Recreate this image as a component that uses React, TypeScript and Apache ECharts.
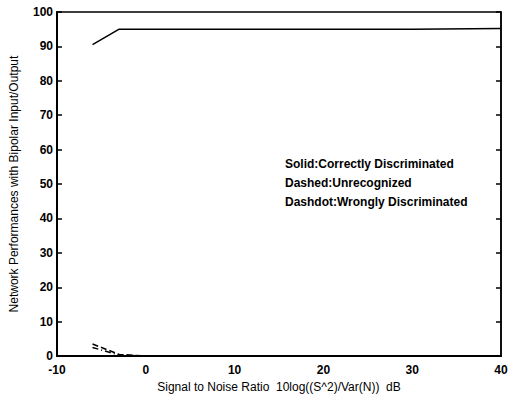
import React, { useEffect, useRef } from "react";
import * as echarts from "echarts";

const snr = [-6, -3, 0, 10, 20, 30, 40];
const correct = [90.5, 95, 95, 95, 95, 95, 95.2];
const unrecognized = [3.5, 0.5, 0, 0, 0, 0, 0];
const wrong = [2.5, 0.3, 0, 0, 0, 0, 0];
const legendLines = [
  "Solid:Correctly Discriminated",
  "Dashed:Unrecognized",
  "Dashdot:Wrongly Discriminated",
];

const FONT = "'Liberation Sans', Arial, Helvetica, sans-serif";

export default function App() {
  const ref = useRef<HTMLDivElement>(null);
  useEffect(() => {
    if (!ref.current) return;
    const chart = echarts.init(ref.current, undefined, { renderer: "svg" });
    const pair = (ys: number[]) => snr.map((x, i) => [x, ys[i]]);
    chart.setOption({
      animation: false,
      backgroundColor: "#ffffff",
      grid: {
        left: 57,
        right: 19,
        top: 12,
        height: 351,
        show: true,
        borderColor: "#000",
        borderWidth: 1.5,
        backgroundColor: "transparent",
      },
      xAxis: {
        type: "value",
        min: -10,
        max: 40,
        interval: 10,
        axisLine: { show: true, onZero: false, lineStyle: { color: "#000", width: 2 } },
        axisTick: { show: false },
        splitLine: { show: false },
        axisLabel: {
          color: "#000",
          fontFamily: FONT,
          fontSize: 12,
          fontWeight: "bold",
          margin: 8,
        },
        name: "Signal to Noise Ratio  10log((S^2)/Var(N))  dB",
        nameLocation: "middle",
        nameGap: 24,
        nameTextStyle: { color: "#000", fontFamily: FONT, fontSize: 12 },
      },
      yAxis: [
        {
          type: "value",
          min: 0,
          max: 100,
          interval: 10,
          axisLine: { show: true, onZero: false, lineStyle: { color: "#000", width: 2 } },
          axisTick: { show: true, inside: true, length: 5, lineStyle: { color: "#000", width: 1.5 } },
          splitLine: { show: false },
          axisLabel: {
            color: "#000",
            fontFamily: FONT,
            fontSize: 12,
            fontWeight: "bold",
            margin: 4,
          },
          name: "Network Performances with Bipolar Input/Output",
          nameLocation: "middle",
          nameGap: 37,
          nameTextStyle: { color: "#000", fontFamily: FONT, fontSize: 12 },
        },
        {
          type: "value",
          min: 0,
          max: 100,
          interval: 10,
          position: "right",
          axisLine: { show: true, onZero: false, lineStyle: { color: "#000", width: 1.5 } },
          axisTick: { show: true, inside: true, length: 5, lineStyle: { color: "#000", width: 1.5 } },
          splitLine: { show: false },
          axisLabel: { show: false },
        },
      ],
      series: [
        {
          type: "line",
          data: pair(correct),
          showSymbol: false,
          lineStyle: { color: "#000", width: 1.5, type: "solid" },
        },
        {
          type: "line",
          data: pair(unrecognized),
          showSymbol: false,
          lineStyle: { color: "#000", width: 1.5, type: "dashed" },
        },
        {
          type: "line",
          data: pair(wrong),
          showSymbol: false,
          lineStyle: { color: "#000", width: 1.5, type: [6, 3, 1, 3] },
        },
      ],
      graphic: legendLines.map((t, i) => ({
        type: "text",
        left: 285,
        top: 158 + i * 19,
        style: {
          text: t,
          fill: "#000",
          font: `bold 12px ${FONT}`,
        },
      })),
    });
    return () => chart.dispose();
  }, []);
  return (
    <div
      ref={ref}
      style={{ position: "absolute", left: 0, top: 0, width: 520, height: 398 }}
    />
  );
}
